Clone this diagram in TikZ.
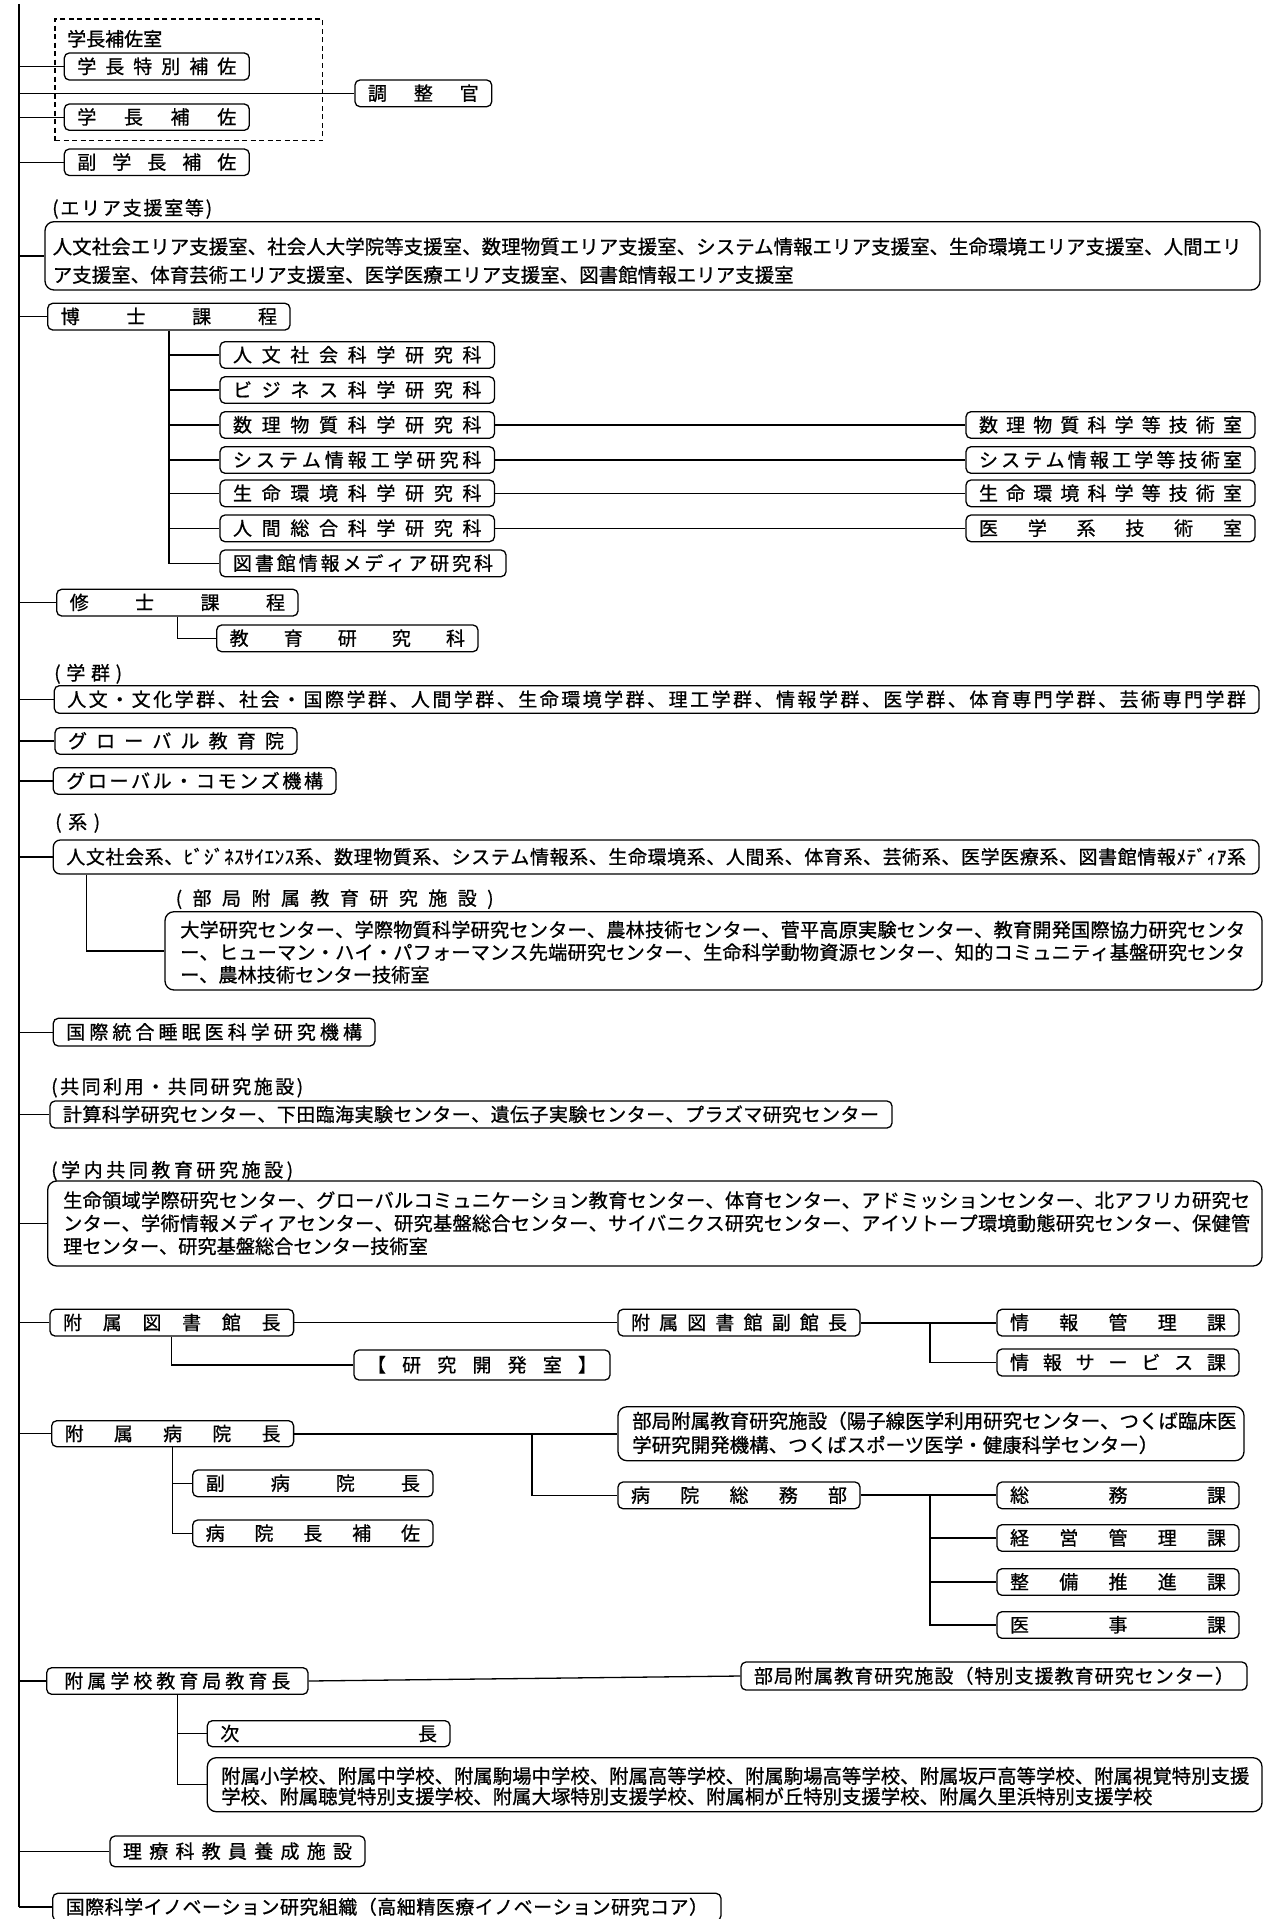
\documentclass[tikz,border=0pt]{standalone}
\usepackage{fontspec}
\setmainfont{Noto Sans CJK JP}[FakeBold=0.8]
\makeatletter
\def\spr@#1#2{#1\ifx\relax#2\expandafter\@gobble\else\hfil\expandafter\@firstofone\fi{\spr@#2}}
\newcommand\spreadbox[2]{\makebox[#1][s]{\spr@#2\relax}}
\makeatother
\tikzset{
  sbox/.style={draw, line width=1.3pt, rounded corners=5pt, inner sep=0pt,
    font=\fontsize{19}{19}\selectfont, text height=16.5pt, text depth=2.5pt},
  mbox/.style={draw, line width=1.3pt, rounded corners=9pt, inner sep=0pt},
  tline/.style={inner sep=0pt, anchor=west, font=\fontsize{19.5}{19.5}\selectfont, text height=17pt, text depth=2.5pt},
  wline/.style={inner sep=0pt, anchor=west, font=\fontsize{19.2}{19.2}\selectfont, text height=16.5pt, text depth=2.5pt},
  lbl/.style={inner sep=0pt, anchor=west, font=\fontsize{19}{19}\selectfont, text height=16.5pt, text depth=2.5pt},
  conn/.style={line width=1.3pt},
  thconn/.style={line width=2pt},
  trunk/.style={line width=2.2pt},
}
\newcommand\bx[6]{\node[sbox, minimum width={#4pt-#2pt}, minimum height={#5pt-#3pt}] (#1) at ({(#2+#4)/2},{(#3+#5)/2}) {\spreadbox{\dimexpr#4pt-#2pt-26pt\relax}{#6}};}
\newcommand\mb[5]{\node[mbox, minimum width={#4pt-#2pt}, minimum height={#5pt-#3pt}] (#1) at ({(#2+#4)/2},{(#3+#5)/2}) {};}
\begin{document}
\begin{tikzpicture}[x=1pt,y=-1pt]
\fill[white] (0,0) rectangle (1287,1919);
\useasboundingbox (0,0) rectangle (1287,1919);

% top group
\node[draw, dashed, dash pattern=on 5pt off 3.5pt, line width=1.3pt, minimum width=267.3pt, minimum height=121.7pt, inner sep=0pt] (shitsu) at (188.65,79.85) {};
\node[lbl] (shitsul) at (67,39) {学長補佐室};
\bx{tokuho}{64.3}{53}{249.3}{80}{学長特別補佐}
\bx{chosei}{355}{80}{491.7}{106.7}{調整官}
\bx{gakuho}{64.3}{104}{249.3}{130.3}{学長補佐}
\bx{fukuho}{64.3}{149}{249.3}{175.5}{副学長補佐}

% area
\node[lbl] (areal) at (52,208) {\spreadbox{160pt}{(エリア支援室等)}};
\mb{area}{45}{221.7}{1260}{290}
\node[tline] (ar1) at (52.5,246.7) {人文社会エリア支援室、社会人大学院等支援室、数理物質エリア支援室、システム情報エリア支援室、生命環境エリア支援室、人間エリ};
\node[tline] (ar2) at (52.5,275) {ア支援室、体育芸術エリア支援室、医学医療エリア支援室、図書館情報エリア支援室};

% doctoral
\bx{hakase}{47.7}{303.3}{290}{330}{博士課程}
\bx{k1}{220}{341.7}{494.5}{368.3}{人文社会科学研究科}
\bx{k2}{220}{376.7}{494.5}{403.3}{ビジネス科学研究科}
\bx{k3}{220}{411.7}{494.5}{438.3}{数理物質科学研究科}
\bx{k4}{220}{446.7}{494.5}{473.3}{システム情報工学研究科}
\bx{k5}{220}{480}{494.5}{506.7}{生命環境科学研究科}
\bx{k6}{220}{515}{494.5}{541.7}{人間総合科学研究科}
\bx{k7}{220}{550}{506}{576.7}{図書館情報メディア研究科}
\bx{t3}{966}{411.7}{1255}{438.3}{数理物質科学等技術室}
\bx{t4}{966}{446.7}{1255}{473.3}{システム情報工学等技術室}
\bx{t5}{966}{480}{1255}{506.7}{生命環境科学等技術室}
\bx{t6}{966}{515}{1255}{541.7}{医学系技術室}

% master
\bx{shushi}{56.7}{589.3}{298}{616}{修士課程}
\bx{kyoiku}{216.7}{625}{478}{651.7}{教育研究科}

% gakugun
\node[lbl] (gakugunl) at (54,673) {\spreadbox{68pt}{(学群)}};
\bx{gakugun}{54.3}{685.7}{1259}{713.3}{人文・文化学群、社会・国際学群、人間学群、生命環境学群、理工学群、情報学群、医学群、体育専門学群、芸術専門学群}
\bx{gl1}{55}{727.7}{297}{754.3}{グローバル教育院}
\bx{gl2}{53.3}{767.7}{336}{794.3}{グローバル・コモンズ機構}

% kei
\node[lbl] (keil) at (55,822) {\spreadbox{45pt}{(系)}};
\node[sbox, rounded corners=7pt, minimum width=1205.7pt, minimum height=34pt] (kei) at (656.15,857) {\spreadbox{1179.7pt}{人文社会系、ﾋﾞｼﾞﾈｽｻｲｴﾝｽ系、数理物質系、システム情報系、生命環境系、人間系、体育系、芸術系、医学医療系、図書館情報ﾒﾃﾞｨｱ系}};
\node[lbl] (bukyokul) at (175.5,898.3) {\spreadbox{318pt}{(部局附属教育研究施設)}};
\mb{bukyoku}{165}{911.7}{1262}{990}
\node[wline] (bk1) at (180,930) {\spreadbox{1065pt}{大学研究センター、学際物質科学研究センター、農林技術センター、菅平高原実験センター、教育開発国際協力研究センタ}};
\node[wline] (bk2) at (180,952.5) {\spreadbox{1065pt}{ー、ヒューマン・ハイ・パフォーマンス先端研究センター、生命科学動物資源センター、知的コミュニティ基盤研究センタ}};
\node[wline] (bk3) at (180,975) {ー、農林技術センター技術室};

% sleep
\bx{suimin}{53.3}{1018.3}{375}{1046}{国際統合睡眠医科学研究機構}

% joint use
\node[lbl] (keisanl) at (51,1086.7) {\spreadbox{252pt}{(共同利用・共同研究施設)}};
\bx{keisan}{50}{1101}{892}{1128}{計算科学研究センター、下田臨海実験センター、遺伝子実験センター、プラズマ研究センター}

% gakunai
\node[lbl] (gakunail) at (51,1170) {\spreadbox{242pt}{(学内共同教育研究施設)}};
\mb{gakunai}{47.7}{1181}{1262}{1266}
\node[wline] (gn1) at (63,1200.5) {\spreadbox{1187pt}{生命領域学際研究センター、グローバルコミュニケーション教育センター、体育センター、アドミッションセンター、北アフリカ研究セ}};
\node[wline] (gn2) at (63,1223.5) {\spreadbox{1187pt}{ンター、学術情報メディアセンター、研究基盤総合センター、サイバニクス研究センター、アイソトープ環境動態研究センター、保健管}};
\node[wline] (gn3) at (63,1246.5) {理センター、研究基盤総合センター技術室};

% library
\bx{lib}{50}{1309.3}{293.6}{1336}{附属図書館長}
\bx{kaihatsu}{354}{1350}{610}{1380}{【研究開発室】}
\bx{fukukan}{618}{1309.3}{860}{1336}{附属図書館副館長}
\bx{jk}{997}{1309.3}{1239}{1336}{情報管理課}
\bx{js}{997}{1349}{1239}{1376}{情報サービス課}

% hospital
\bx{byoin}{51.7}{1420.7}{293.6}{1446.7}{附属病院長}
\mb{yoshi}{618}{1406.7}{1244}{1460.7}
\node[tline] (ys1) at (632,1421) {部局附属教育研究施設（陽子線医学利用研究センター、つくば臨床医};
\node[tline] (ys2) at (632,1445) {学研究開発機構、つくばスポーツ医学・健康科学センター）};
\bx{fukubyo}{192.7}{1470}{433}{1496.7}{副病院長}
\bx{byohosa}{192.7}{1520}{433}{1546.7}{病院長補佐}
\bx{somubu}{618}{1482}{860}{1508.7}{病院総務部}
\bx{somu}{997}{1482}{1239}{1508.7}{総務課}
\bx{keiei}{997}{1524.7}{1239}{1551.3}{経営管理課}
\bx{seibi}{997}{1568.7}{1239}{1595.3}{整備推進課}
\bx{iji}{997}{1611.7}{1239}{1638.3}{医事課}

% schools
\node[sbox, minimum width=261.3pt, minimum height=26.6pt] (kyoikucho) at (177.35,1681) {\spreadbox{226pt}{附属学校教育局教育長}\hspace{10pt}};
\bx{tokubetsu}{741}{1662}{1247}{1690}{部局附属教育研究施設（特別支援教育研究センター）}
\bx{jicho}{207.3}{1720.7}{450}{1746.7}{次長}
\mb{fuzoku}{207.3}{1757.7}{1262}{1811.7}
\node[tline, font=\fontsize{19.4}{19.4}\selectfont] (fz1) at (221,1776) {附属小学校、附属中学校、附属駒場中学校、附属高等学校、附属駒場高等学校、附属坂戸高等学校、附属視覚特別支援};
\node[tline, font=\fontsize{19.4}{19.4}\selectfont] (fz2) at (221,1796.5) {学校、附属聴覚特別支援学校、附属大塚特別支援学校、附属桐が丘特別支援学校、附属久里浜特別支援学校};
\bx{riryo}{110}{1836}{365}{1866.7}{理療科教員養成施設}
\bx{kk}{52.7}{1893.3}{721}{1920.7}{国際科学イノベーション研究組織（高細精医療イノベーション研究コア）}

% connectors
\coordinate (tk) at (19.3,4);
\coordinate (lv) at (930,0);
\coordinate (hv) at (532,0);
\coordinate (kv) at (86.7,0);
\draw[trunk] (tk) -- (tk |- kk.west);
\draw[conn] (tk |- kk.west) -- (kk.west);
\foreach \n in {tokuho,chosei,gakuho,fukuho,area,hakase,shushi,gakugun,gl1,gl2,kei,suimin,keisan,gakunai,lib,byoin,kyoikucho,riryo}
  \draw[conn] (tk |- \n.west) -- (\n.west);
% doctoral
\draw[conn] (hakase.south) |- (k7.west);
\foreach \n in {k1,k2,k3,k4,k5,k6}
  \draw[conn] (hakase.south |- \n.west) -- (\n.west);
\draw[conn] (k3.east) -- (t3.west);
\draw[thconn] (k4.east) -- (t4.west);
\draw[conn] (k5.east) -- (t5.west);
\draw[conn] (k6.east) -- (t6.west);
% master
\draw[conn] (shushi.south) |- (kyoiku.west);
% kei
\draw[conn] (kv |- kei.south) |- (bukyoku.west);
% library
\draw[conn] (lib.south) |- (kaihatsu.west);
\draw[conn] (lib.east) -- (fukukan.west);
\draw[thconn] (fukukan.east) -- (jk.west);
\draw[conn] (lv |- fukukan.east) |- (js.west);
% hospital
\draw[thconn] (byoin.east) -- (yoshi.west);
\draw[conn] (hv |- byoin.east) |- (somubu.west);
\draw[conn] (byoin.south) |- (byohosa.west);
\draw[conn] (byoin.south |- fukubyo.west) -- (fukubyo.west);
\draw[thconn] (somubu.east) -- (somu.west);
\draw[conn] (lv |- somubu.east) |- (iji.west);
\draw[conn] (lv |- keiei.west) -- (keiei.west);
\draw[conn] (lv |- seibi.west) -- (seibi.west);
% schools
\draw[conn] (kyoikucho.east) -- (tokubetsu.west);
\draw[conn] (kyoikucho.south) |- (fuzoku.west);
\draw[conn] (kyoikucho.south |- jicho.west) -- (jicho.west);
\end{tikzpicture}
\end{document}
